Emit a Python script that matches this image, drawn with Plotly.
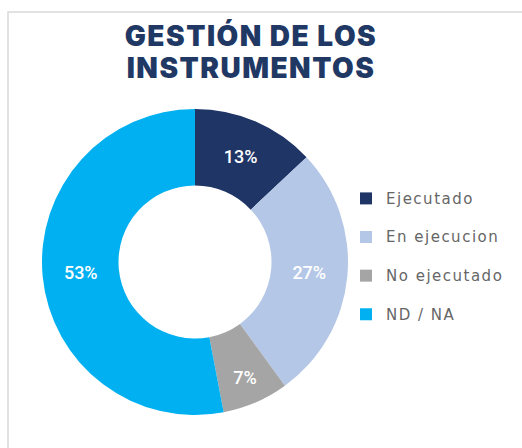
import plotly.graph_objects as go

# Instrument management status shares (%)
categories = ["Ejecutado", "En ejecucion", "No ejecutado", "ND / NA"]
values = [13, 27, 7, 53]
colors = ["#1F3566", "#B4C7E7", "#A5A5A5", "#00B0F0"]

title_lines = ["GESTIÓN DE LOS", "INSTRUMENTOS"]

W, H = 522, 448

# legend labels: wider-tracked text plus a blank second line for roomier rows
legend_labels = [
    f"<span style='font-size:15px;letter-spacing:1.5px'>{c}</span><br> "
    for c in categories
]

# title lines drawn at 28px on a tighter 24.6px line pitch
title_text = "<br>".join(
    f"<span style='font-size:28px;letter-spacing:1.5px'>{t}</span>"
    for t in title_lines
)

fig = go.Figure(
    go.Pie(
        labels=legend_labels,
        values=values,
        sort=False,
        direction="clockwise",
        rotation=0,
        hole=0.5,
        marker=dict(colors=colors, line=dict(width=0)),
        textinfo="percent",
        texttemplate="%{percent:.0%}",
        textposition="inside",
        insidetextorientation="horizontal",
        textfont=dict(family="Roboto", size=18, color="white", weight=500),
        domain=dict(x=[42 / W, 348 / W], y=[(H - 415) / H, (H - 109) / H]),
        hoverinfo="label+percent",
    )
)

fig.update_layout(
    width=W,
    height=H,
    margin=dict(l=0, r=0, t=0, b=0),
    paper_bgcolor="white",
    plot_bgcolor="white",
    title=dict(
        text=title_text,
        x=251 / W,
        xanchor="center",
        y=1 - 46 / H,
        yanchor="top",
        font=dict(family="Inter", size=24.6, color="#1F3864", weight=900),
    ),
    legend=dict(
        x=346 / W,
        xanchor="left",
        y=1 - 183 / H,
        yanchor="top",
        valign="top",
        font=dict(family="DejaVu Sans", size=13.7, color="#666666"),
        bgcolor="rgba(0,0,0,0)",
    ),
    shapes=[
        dict(
            type="rect",
            xref="paper",
            yref="paper",
            x0=8 / W,
            x1=1.05,
            y0=-0.05,
            y1=1 - 12 / H,
            line=dict(color="#D9D9D9", width=1.5),
            fillcolor="rgba(0,0,0,0)",
            layer="below",
        )
    ],
)

fig.write_html("out.html")
